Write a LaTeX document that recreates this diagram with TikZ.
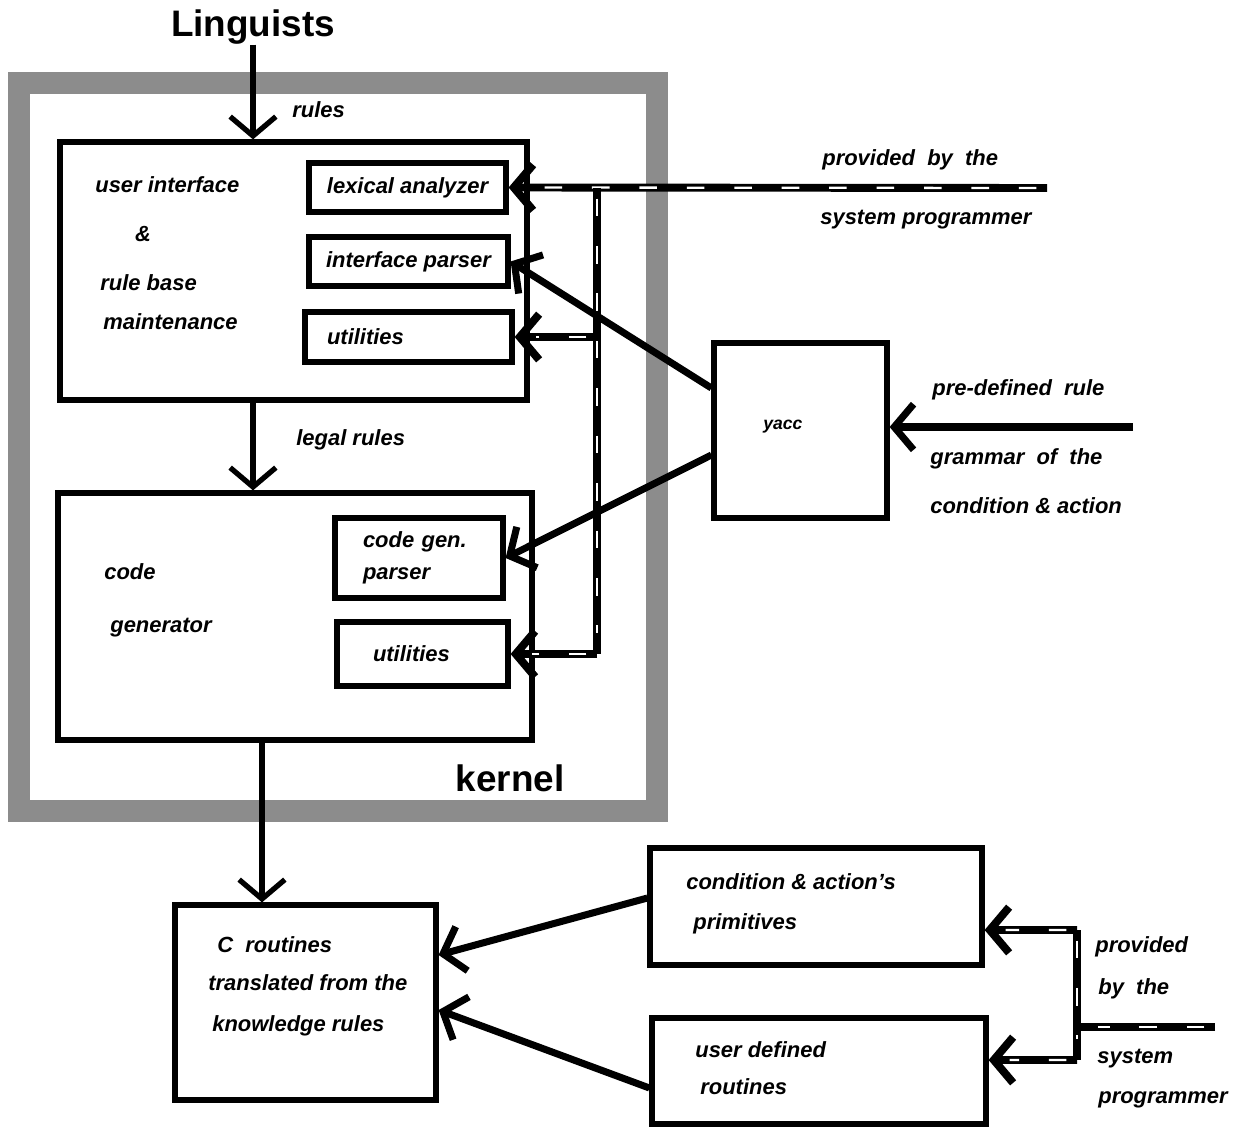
\documentclass[tikz,border=0pt]{standalone}
\usepackage{fontspec}
\setmainfont{Liberation Sans}
\usetikzlibrary{arrows.meta,positioning}

\begin{document}
\begin{tikzpicture}[
    x=0.02cm, y=-0.02cm,
    box/.style={rectangle, draw, line width=3pt, inner sep=0pt},
    txt/.style={font=\fontsize{12.5}{18}\selectfont\bfseries\itshape, inner sep=0pt},
    big/.style={font=\fontsize{21}{25}\selectfont\bfseries, inner sep=0pt},
    conn/.style={line width=3pt},
    thickconn/.style={line width=4pt},
    arr/.style={-{Straight Barb[length=11pt,width=26pt]}},
    bus/.style={line width=4.5pt, postaction={draw=white, -, line width=1.3pt, dash pattern=on 10pt off 17pt, shorten >=12pt, shorten <=6pt}}
]
    \useasboundingbox (0,0) rectangle (1250,1128);

    % kernel frame
    \node[draw=black!45, line width=0.44cm, minimum width=12.76cm, minimum height=14.56cm] (kernel) at (338,447) {};
    \node[big] (kernellab) at (510,778) {kernel};
    \node[big] (ling) at (253,27) {Linguists};

    % user interface box
    \node[box, minimum width=9.34cm, minimum height=5.16cm] (ui) at (293.5,271) {};
    \node[txt, anchor=west] (ui1) at (95,185) {user interface};
    \node[txt] (ui2) at (143,234) {\&};
    \node[txt, anchor=west] (ui3) at (100,283) {rule base};
    \node[txt, anchor=west] (ui4) at (103,322) {maintenance};
    \node[box, txt, minimum width=3.94cm, minimum height=0.98cm] (lex) at (407.5,187.5) {lexical analyzer};
    \node[box, txt, minimum width=3.98cm, minimum height=0.98cm] (ipar) at (408.5,261.5) {interface parser};
    \node[box, txt, minimum width=4.14cm, minimum height=1cm, text width=3.26cm, align=left] (util1) at (408.5,337) {utilities};

    % code generator box
    \node[box, minimum width=9.48cm, minimum height=4.94cm] (cg) at (295,616.5) {};
    \node[txt, anchor=west] (cg1) at (104,572) {code};
    \node[txt, anchor=west] (cg2) at (110,628) {generator};
    \node[box, txt, minimum width=3.36cm, minimum height=1.6cm, text width=2.24cm, align=left] (cgp) at (419,558) {code gen.\\parser};
    \node[box, txt, minimum width=3.42cm, minimum height=1.28cm, text width=1.98cm, align=left] (util2) at (422.5,654) {utilities};

    % yacc
    \node[box, minimum width=3.46cm, minimum height=3.5cm] (yacc) at (800.5,430.5) {};
    \node[txt, font=\fontsize{10}{12}\selectfont\bfseries\itshape, anchor=west] (yacclab) at (763,427) {yacc};

    % bottom boxes
    \node[box, minimum width=5.22cm, minimum height=3.9cm] (cr) at (305.5,1002.5) {};
    \node[txt, anchor=west] (cr1) at (217,945) {C\ \ routines};
    \node[txt, anchor=west] (cr2) at (208,983) {translated from the};
    \node[txt, anchor=west] (cr3) at (212,1026) {knowledge rules};
    \node[box, minimum width=6.64cm, minimum height=2.34cm] (cond) at (816,906.5) {};
    \node[txt, anchor=west] (cond1) at (686,882) {condition \& action's};
    \node[txt, anchor=west] (cond2) at (693,924) {primitives};
    \node[box, minimum width=6.68cm, minimum height=2.12cm] (user) at (819,1071) {};
    \node[txt, anchor=west] (user1) at (695,1050) {user defined};
    \node[txt, anchor=west] (user2) at (700,1087) {routines};

    % labels
    \node[txt, anchor=west] (rules) at (292,110) {rules};
    \node[txt, anchor=west] (legal) at (296,440) {legal rules};
    \node[txt, anchor=west] (prov1) at (822,160) {provided\ \ by\ \ the};
    \node[txt, anchor=west] (sys1) at (820,220) {system programmer};
    \node[txt, anchor=west] (pre1) at (932,390) {pre-defined\ \ rule};
    \node[txt, anchor=west] (pre2) at (930,459) {grammar\ \ of\ \ the};
    \node[txt, anchor=west] (pre3) at (930,506) {condition \& action};
    \node[txt, anchor=west] (prov2) at (1095,947) {provided};
    \node[txt, anchor=west] (prov3) at (1098,989) {by\ \ the};
    \node[txt, anchor=west] (sys2) at (1097,1059) {system};
    \node[txt, anchor=west] (sys3) at (1098,1100) {programmer};

    \coordinate (sp1) at (1047,188);
    \coordinate (j1) at (597,188);
    \coordinate (gram) at (1133,427);
    \coordinate (cgout) at (262,740);
    \coordinate (sp2) at (1215,1027);
    \coordinate (j2) at (1077,1027);

    % main flow
    \draw[conn, arr] (ling.south) -- (ling.south |- ui.north);
    \draw[conn, arr] (ling |- ui.south) -- (ling |- cg.north);
    \draw[conn, arr] (cgout) -- (cgout |- cr.north);

    % system programmer bus
    \draw[bus, arr] (sp1) -- (lex.east);
    \draw[bus] (j1) -- (j1 |- util2.east);
    \draw[bus, arr] (j1 |- util1.east) -- (util1.east);
    \draw[bus, arr] (j1 |- util2.east) -- (util2.east);

    % yacc
    \draw[thickconn, arr] (gram) -- (gram -| yacc.east);
    \draw[thickconn, arr] ([yshift=0.85cm]yacc.west) -- (ipar.east);
    \draw[thickconn, arr] ([yshift=-0.49cm]yacc.west) -- (cgp.east);

    % into C routines
    \draw[thickconn, arr] ([yshift=0.17cm]cond.west) -- ([yshift=0.95cm]cr.east);
    \draw[thickconn, arr] ([yshift=-0.34cm]user.west) -- ([yshift=-0.15cm]cr.east);

    % bottom bus
    \draw[bus] (sp2) -- (j2);
    \draw[bus] (j2 |- 0,930) -- (j2 |- 0,1060);
    \draw[bus, arr] (j2 |- 0,930) -- ([yshift=-0.47cm]cond.east);
    \draw[bus, arr] (j2 |- 0,1060) -- ([yshift=0.22cm]user.east);
\end{tikzpicture}
\end{document}
